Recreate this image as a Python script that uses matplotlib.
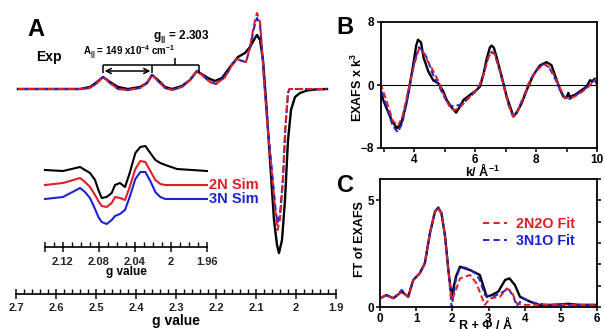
import matplotlib
matplotlib.use("Agg")
import matplotlib.pyplot as plt
from matplotlib.lines import Line2D
from matplotlib.ticker import MultipleLocator, FixedLocator, FuncFormatter

plt.rcParams['font.family'] = ['Liberation Sans', 'DejaVu Sans']
plt.rcParams['font.weight'] = 'bold'
plt.rcParams['axes.labelweight'] = 'bold'
plt.rcParams['mathtext.fontset'] = 'custom'
plt.rcParams['mathtext.rm'] = 'Liberation Sans:bold'
plt.rcParams['mathtext.bf'] = 'Liberation Sans:bold'
plt.rcParams['mathtext.it'] = 'Liberation Sans:bold'
plt.rcParams['mathtext.default'] = 'bf'

RED = '#de1f26'
BLUE = '#1c22d6'

# ---- panel A : X-band EPR, experiment vs simulations ----
epr_g_exp = [2.695, 2.54, 2.515, 2.4975, 2.4825, 2.465, 2.445, 2.42, 2.39, 2.3725,
             2.36, 2.345, 2.3275, 2.31, 2.285, 2.265, 2.2475, 2.2325, 2.215, 2.2025,
             2.185, 2.165, 2.145, 2.1275, 2.115, 2.1025, 2.0975, 2.09, 2.0825, 2.075,
             2.065, 2.055, 2.0475, 2.0425, 2.035, 2.0275, 2.02, 2.0125, 2.0025, 1.99,
             1.9725, 1.9525, 1.9225]
epr_exp = [0, 0, 2, 7, 12, 7, 2, 0, 2, 6,
           14, 9, 2, 0, 3, 9, 18, 14, 10, 8,
           11, 22, 32, 36, 42, 51, 54, 49, 29, -11,
           -71, -131, -156, -164, -151, -111, -51, -21, -8, -4,
           -1.5, -0.5, 0]

epr_g_sim = [2.695, 2.54, 2.515, 2.4975, 2.4825, 2.465, 2.445, 2.42, 2.39, 2.3725,
             2.36, 2.345, 2.3275, 2.31, 2.285, 2.265, 2.2475, 2.2325, 2.215, 2.2,
             2.1775, 2.16, 2.1475, 2.135, 2.125, 2.115, 2.105, 2.0975, 2.09, 2.085,
             2.08, 2.07, 2.06, 2.0512, 2.0462, 2.04, 2.0325, 2.0268, 2.02, 2.0163,
             1.9225]
epr_2n = [0, 0, 1, 6, 12, 6, 0, -1, 1, 6,
          14, 8, 1, -1, 2, 9, 18, 13, 7, 5,
          12, 24, 30, 28, 27, 42, 64, 76, 67, 40,
          9, -43, -86, -125, -141, -130, -91, -41, -4, 0,
          0]
epr_3n = [0, 0, 1, 6, 12, 6, 0, -1, 1, 6,
          14, 8, 1, -1, 2, 9, 18, 13, 7, 5,
          12, 24, 30, 28, 27, 41, 61, 71, 64, 40,
          10, -40, -82, -120, -134, -126, -88, -40, -4, 0,
          0]

# inset: g ~ 2 region, offset traces
ins_g = [2.14, 2.12, 2.101, 2.0956, 2.09, 2.0844, 2.0807, 2.077, 2.0715, 2.0659,
         2.0622, 2.0567, 2.0511, 2.0459, 2.0396, 2.0341, 2.0285, 2.023, 2.0174, 2.0119,
         2.0063, 1.9933, 1.96]
ins_exp = [77, 76, 80, 77, 74, 67, 57, 49, 50, 54,
           62, 64, 60, 74, 94, 100, 101, 94, 87, 84,
           82, 78, 76]
ins_2n = [62, 64, 69, 65, 60, 52, 46, 41, 40, 44,
          50, 49, 47, 60, 78, 86, 85, 76, 67, 63,
          62, 62, 62]
ins_3n = [48, 50, 59, 55, 49, 38, 30, 25, 23, 27,
          31, 33, 37, 50, 68, 75, 75, 66, 55, 50,
          48, 48, 48]

a_par_lines = [2.4825, 2.36, 2.2425]
g_par = 2.303

# ---- panel B : k^3 weighted EXAFS ----
k_exp = [2.9, 3.05, 3.28, 3.44, 3.57, 3.74, 3.84, 3.97, 4.07, 4.13,
         4.23, 4.31, 4.47, 4.63, 4.8, 4.96, 5.07, 5.24, 5.38, 5.51,
         5.62, 5.84, 6.06, 6.16, 6.27, 6.38, 6.49, 6.55, 6.62, 6.71,
         6.88, 7.04, 7.2, 7.26, 7.37, 7.53, 7.7, 7.91, 8.13, 8.35,
         8.51, 8.62, 8.79, 8.9, 9.0, 9.06, 9.1, 9.28, 9.44, 9.66,
         9.77, 9.85, 9.93, 10.0]
chi_exp = [-1.0, -2.5, -4.6, -5.5, -5.0, -2.5, -0.4, 2.5, 5.0, 5.75,
           5.4, 3.5, 1.7, 0.6, 0.2, -0.8, -1.9, -2.9, -3.5, -2.7,
           -1.9, -1.25, -0.6, -0.2, 1.25, 3.3, 4.8, 5.0, 4.7, 3.5,
           1.0, -1.5, -3.3, -4.0, -3.5, -2.3, -0.6, 1.25, 2.5, 2.9,
           2.5, 1.25, -0.6, -1.5, -1.6, -1.0, -1.5, -1.25, -0.8, -0.2,
           0.6, 0.5, 0.8, 0.1]

k_fit = [2.9, 3.1, 3.3, 3.47, 3.62, 3.82, 4.0, 4.16, 4.3, 4.45,
         4.6, 4.8, 5.0, 5.17, 5.32, 5.5, 5.7, 6.0, 6.15, 6.3,
         6.45, 6.55, 6.65, 6.8, 6.95, 7.1, 7.25, 7.4, 7.6, 7.8,
         8.0, 8.2, 8.3, 8.45, 8.6, 8.8, 8.95, 9.1, 9.3, 9.5,
         9.7, 9.85, 10.0]
chi_2n2o = [0.2, -2.0, -4.5, -5.2, -4.0, -0.5, 2.5, 4.6, 4.2, 3.0,
            2.0, 0.5, -1.5, -2.8, -3.2, -2.9, -2.0, -0.8, 0.0, 1.6,
            3.6, 4.2, 3.9, 2.0, -0.2, -2.5, -4.0, -3.3, -1.5, 0.5,
            1.7, 2.5, 2.6, 2.2, 1.2, -0.5, -1.6, -1.7, -1.4, -0.9,
            -0.3, 0.3, 0.8]
chi_3n1o = [-0.3, -2.8, -5.2, -6.0, -4.8, -1.0, 2.8, 4.8, 4.3, 3.2,
            1.5, 0.0, -1.6, -2.6, -2.7, -2.5, -2.0, -0.9, 0.0, 1.7,
            3.7, 4.2, 3.9, 1.9, -0.3, -2.6, -4.0, -3.2, -1.4, 0.6,
            1.8, 2.6, 2.6, 2.1, 1.0, -0.7, -1.7, -1.8, -1.3, -0.8,
            -0.2, 0.4, 0.9]

# ---- panel C : Fourier transform ----
r_exp = [0.0, 0.18, 0.37, 0.6, 0.78, 0.92, 1.1, 1.24, 1.38, 1.52,
         1.61, 1.7, 1.8, 1.89, 1.98, 2.1, 2.21, 2.35, 2.49, 2.67,
         2.76, 2.95, 3.09, 3.27, 3.46, 3.58, 3.73, 3.87, 4.15, 4.42,
         4.8, 5.2, 5.5, 6.0]
ft_exp = [0.41, 0.56, 0.41, 0.72, 0.48, 1.27, 1.58, 2.05, 3.45, 4.47,
          4.66, 4.39, 3.3, 1.73, 0.48, 1.42, 1.89, 1.81, 1.73, 1.58,
          1.5, 0.48, 0.56, 0.72, 1.27, 1.34, 1.03, 0.48, 0.25, 0.09,
          0.1, 0.15, 0.1, 0.1]

r_2n2o = [0.0, 0.18, 0.37, 0.6, 0.78, 0.92, 1.1, 1.24, 1.38, 1.52,
          1.61, 1.7, 1.8, 1.89, 1.98, 2.07, 2.21, 2.4, 2.49, 2.67,
          2.81, 2.9, 3.04, 3.32, 3.5, 3.64, 3.78, 3.95, 4.5, 5.0,
          5.5, 6.0]
ft_2n2o = [0.41, 0.56, 0.41, 0.72, 0.48, 1.27, 1.58, 2.05, 3.45, 4.47,
           4.66, 4.39, 3.3, 1.73, 0.35, 0.64, 1.34, 1.45, 1.5, 1.1,
           0.48, 0.1, 0.4, 0.48, 0.87, 0.72, 0.17, 0.1, 0.1, 0.12,
           0.1, 0.08]

r_3n1o = [0.0, 0.18, 0.37, 0.6, 0.78, 0.92, 1.1, 1.24, 1.38, 1.52,
          1.61, 1.7, 1.8, 1.89, 1.98, 2.1, 2.21, 2.35, 2.49, 2.62,
          2.76, 2.9, 3.13, 3.41, 3.55, 3.69, 3.78, 3.96, 4.24, 4.6,
          5.0, 6.0]
ft_3n1o = [0.41, 0.56, 0.41, 0.8, 0.48, 1.27, 1.58, 2.05, 3.45, 4.47,
           4.66, 4.39, 3.3, 1.73, 0.0, 1.3, 1.85, 1.85, 1.75, 1.6,
           1.27, 0.56, 0.48, 0.72, 0.87, 0.48, 0.05, 0.4, 0.2, 0.1,
           0.1, 0.1]

W, H = 604, 329
fig = plt.figure(figsize=(W / 100, H / 100), dpi=100)


def px_axes(l, t, r, b):
    return fig.add_axes([l / W, 1 - b / H, (r - l) / W, (b - t) / H])


def gfmt(v, pos):
    return '%g' % round(v, 3)


dash_r = (0, (3.2, 1.6))
dash_b = (2.4, (3.2, 1.6))

# main EPR axis
axA = px_axes(16, 0, 336, 294)
axA.patch.set_visible(False)
for s in ['top', 'left', 'right']:
    axA.spines[s].set_visible(False)
axA.spines['bottom'].set_linewidth(1.2)
axA.set_xlim(2.7, 1.9)
axA.set_ylim(-205, 89)
axA.set_yticks([])
axA.xaxis.set_major_locator(MultipleLocator(0.1))
axA.xaxis.set_minor_locator(MultipleLocator(0.02))
axA.xaxis.set_major_formatter(FuncFormatter(gfmt))
axA.tick_params(axis='x', which='major', direction='inout', length=7, width=1.2,
                labelsize=8, pad=3, colors='#222222')
axA.tick_params(axis='x', which='minor', direction='in', length=3.5, width=1.0)
axA.set_xlabel('g value', fontsize=10, labelpad=1)

axA.plot(epr_g_exp, epr_exp, color='black', lw=1.7, clip_on=False)
axA.plot(epr_g_sim, epr_3n, color=BLUE, lw=1.5, ls=dash_b, clip_on=False)
axA.plot(epr_g_sim, epr_2n, color=RED, lw=1.5, ls=dash_r, clip_on=False)

# hyperfine bracket and labels
axA.hlines(24, a_par_lines[0], a_par_lines[-1], color='black', lw=1.1)
axA.vlines(a_par_lines, 16, 24, color='black', lw=1.1)
axA.vlines([g_par], 24, 31, color='black', lw=1.1)
axA.annotate('', xy=(a_par_lines[0] - 0.004, 18), xytext=(a_par_lines[1] + 0.004, 18),
             arrowprops=dict(arrowstyle='<->', lw=1.1, color='black',
                             shrinkA=0, shrinkB=0, mutation_scale=9))
axA.text(2.5325, 36, r'A$_{||}$ = 149 x10$^{-4}$ cm$^{-1}$', fontsize=7,
         ha='left', va='center')
axA.text(2.3575, 52, r'g$_{||}$ = 2.303', fontsize=8.5, ha='left', va='center')
axA.text(2.65, 32, 'Exp', fontsize=10, ha='left', va='center')

# inset around g ~ 2
axI = px_axes(45, 140, 207, 247)
axI.patch.set_visible(False)
for s in ['top', 'left', 'right']:
    axI.spines[s].set_visible(False)
axI.spines['bottom'].set_linewidth(1.2)
axI.set_xlim(2.14, 1.96)
axI.set_ylim(0, 107)
axI.set_yticks([])
axI.xaxis.set_major_locator(FixedLocator([2.14, 2.12, 2.08, 2.04, 2.0, 1.96]))
axI.set_xticklabels(['', '2.12', '2.08', '2.04', '2', '1.96'])
axI.xaxis.set_minor_locator(MultipleLocator(0.01))
axI.tick_params(axis='x', which='major', direction='inout', length=7, width=1.2,
                labelsize=8, pad=3.5, colors='#222222')
axI.tick_params(axis='x', which='minor', direction='in', length=3.5, width=1.0)
axI.set_xlabel('g value', fontsize=8.5, labelpad=-0.5)
axI.plot(ins_g, ins_exp, color='black', lw=1.5, clip_on=False)
axI.plot(ins_g, ins_2n, color=RED, lw=1.5, clip_on=False)
axI.plot(ins_g, ins_3n, color=BLUE, lw=1.5, clip_on=False)
axI.text(1.9575, ins_2n[-1], '2N Sim', color=RED, fontsize=10.5, ha='left', va='center')
axI.text(1.9575, ins_3n[-1], '3N Sim', color=BLUE, fontsize=10.5, ha='left', va='center')

# panel B
axB = px_axes(380.5, 22, 597, 148)
for s in axB.spines.values():
    s.set_linewidth(1.3)
axB.set_xlim(2.9, 10)
axB.set_ylim(-8, 8)
axB.set_xticks([4, 6, 8, 10])
axB.set_xticks([3, 5, 7, 9], minor=True)
axB.set_yticks([-8, 0, 8])
axB.tick_params(which='both', direction='out', length=3, width=1.1, labelsize=8.5, pad=1.5)
axB.axhline(0, color='black', lw=0.8)
axB.plot(k_exp, chi_exp, color='black', lw=1.7)
axB.plot(k_fit, chi_3n1o, color=BLUE, lw=1.4, ls=dash_b)
axB.plot(k_fit, chi_2n2o, color=RED, lw=1.4, ls=dash_r)
axB.set_ylabel(r'EXAFS x k$^{3}$', fontsize=9)
axB.yaxis.set_label_coords(-0.07, 0.48)
axB.set_xlabel(r'k/ Å$^{-1}$', fontsize=9)
axB.xaxis.set_label_coords(0.47, -0.115)

# panel C
axC = px_axes(380, 179, 597, 307)
for s in axC.spines.values():
    s.set_linewidth(1.3)
axC.set_xlim(0, 6)
axC.set_ylim(0, 6)
axC.set_xticks(range(0, 7))
axC.set_yticks([0, 5])
axC.yaxis.set_minor_locator(MultipleLocator(1))
axC.tick_params(which='both', direction='out', length=3, width=1.1, labelsize=8.5, pad=1.5)
axC.tick_params(axis='y', which='major', right=True)
axC.tick_params(axis='y', which='minor', left=False, right=True)
axC.plot(r_exp, ft_exp, color='black', lw=1.7)
axC.plot(r_3n1o, ft_3n1o, color=BLUE, lw=1.4, ls=dash_b)
axC.plot(r_2n2o, ft_2n2o, color=RED, lw=1.4, ls=dash_r)
handles = [Line2D([], [], color=RED, lw=1.4, ls=(0, (3.2, 2.2))),
           Line2D([], [], color=BLUE, lw=1.4, ls=(0, (3.2, 2.2)))]
leg = axC.legend(handles, ['2N2O Fit', '3N1O Fit'], loc='upper left',
                 bbox_to_anchor=(0.475, 0.70), frameon=False,
                 fontsize=10.3, handlelength=1.7, handletextpad=0.6,
                 labelspacing=0.2, borderpad=0, borderaxespad=0)
for t, c in zip(leg.get_texts(), [RED, BLUE]):
    t.set_color(c)
axC.set_ylabel('FT of EXAFS', fontsize=9)
axC.yaxis.set_label_coords(-0.065, 0.53)
axC.set_xlabel('R + Φ / Å', fontsize=9)
axC.xaxis.set_label_coords(0.485, -0.105)

# panel letters
fig.text(36 / W, 1 - 29 / H, 'A', fontsize=17, ha='center', va='center')
fig.text(345 / W, 1 - 28 / H, 'B', fontsize=17, ha='center', va='center')
fig.text(345 / W, 1 - 186 / H, 'C', fontsize=17, ha='center', va='center')

fig.savefig('out.png', dpi=100)
plt.close(fig)
